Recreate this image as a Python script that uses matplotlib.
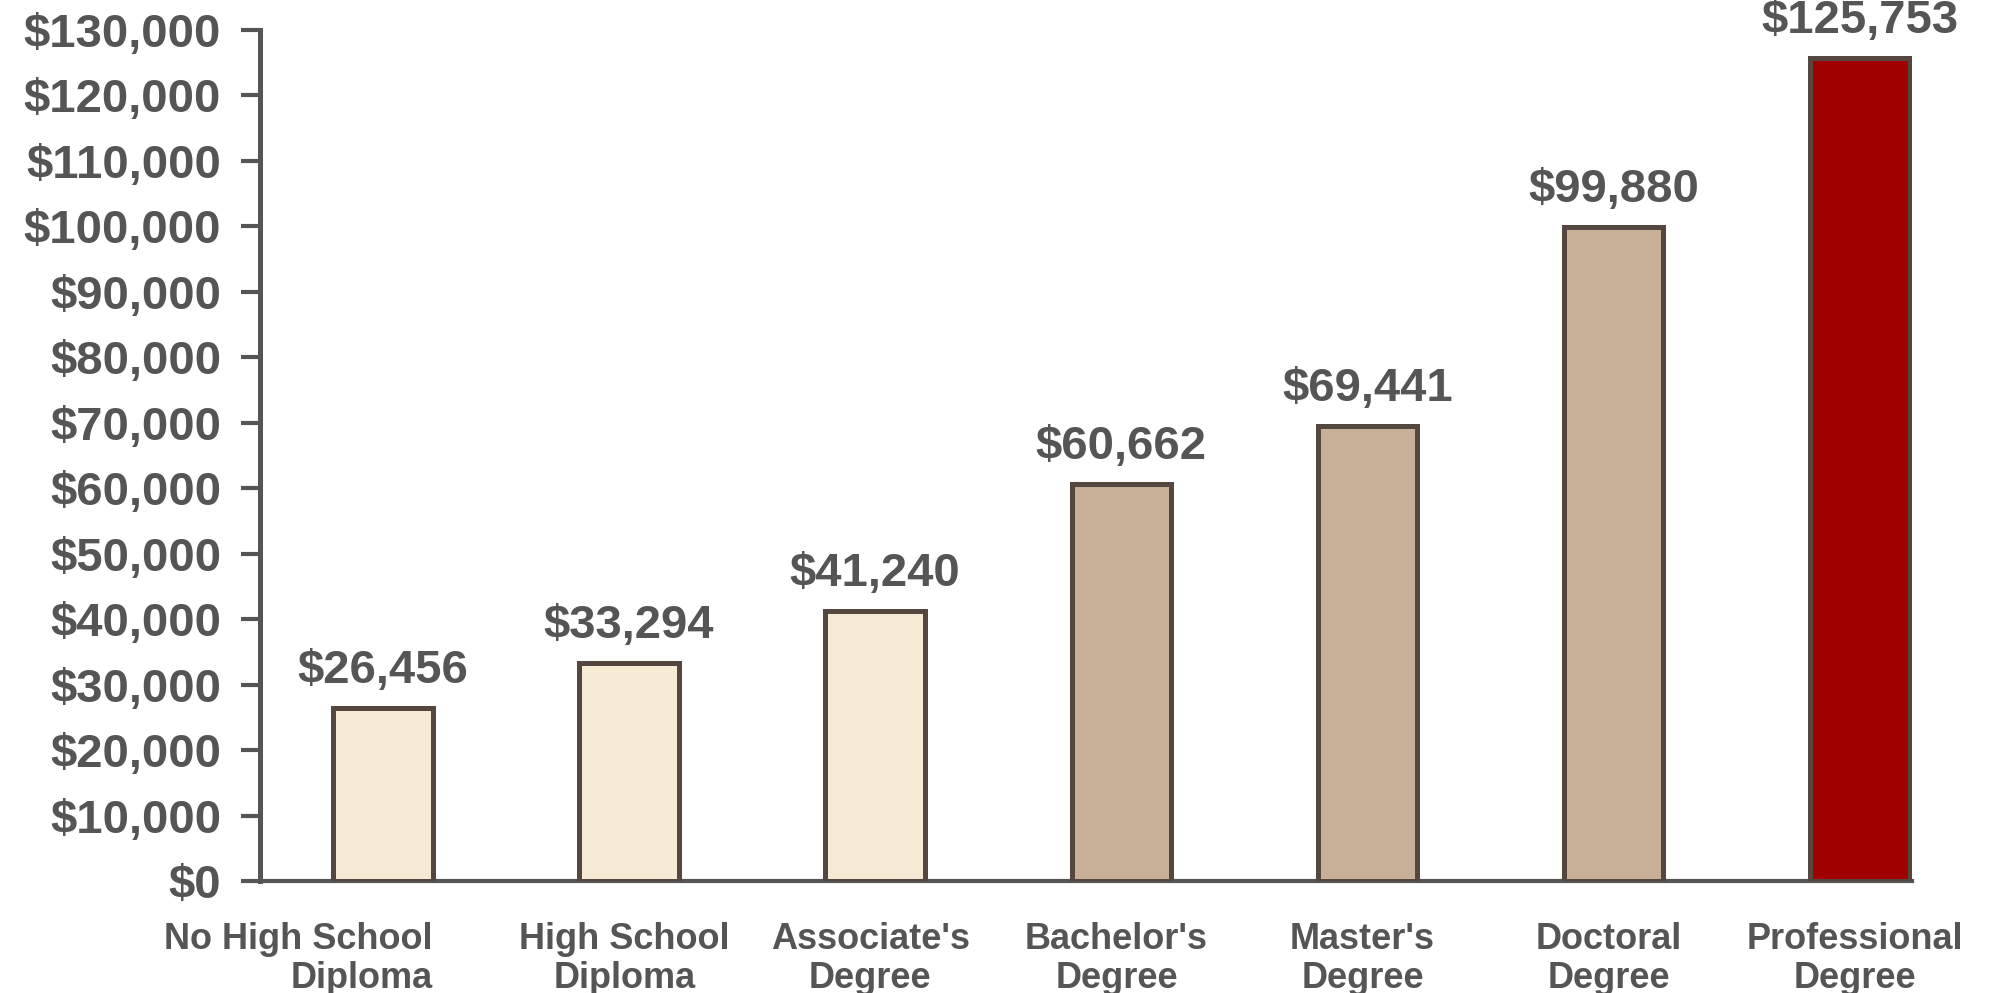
import matplotlib
matplotlib.use("Agg")
import matplotlib.pyplot as plt
from matplotlib.ticker import FuncFormatter

categories = ["No High School\nDiploma", "High School\nDiploma", "Associate's\nDegree",
              "Bachelor's\nDegree", "Master's\nDegree", "Doctoral\nDegree", "Professional\nDegree"]
values = [26456, 33294, 41240, 60662, 69441, 99880, 125753]
value_labels = ["$26,456", "$33,294", "$41,240", "$60,662", "$69,441", "$99,880", "$125,753"]
colors = ["#F5EBD5", "#F5EBD5", "#F5EBD5", "#C8B098", "#C8B098", "#C8B098", "#A00000"]
yticks = list(range(0, 130001, 10000))

plt.rcParams['font.family'] = ['Liberation Sans', 'DejaVu Sans']
text_color = "#555555"

fig = plt.figure(figsize=(19.89, 9.93), dpi=100)
ax = fig.add_axes([0.1307, 0.1128, 0.9613 - 0.1307, 0.9698 - 0.1128])

x = list(range(len(values)))
bw = 0.405
ax.bar(x, values, width=bw, color=colors, edgecolor="#54473F", linewidth=3.6, zorder=3)

for xi, v, lab in zip(x, values, value_labels):
    ax.annotate(lab, (xi, v), xytext=(0, 11), textcoords="offset points",
                ha="center", va="bottom", fontsize=34, fontweight="bold", color=text_color)

ax.set_xlim(-0.5, 6 + bw / 2 + 0.01)
ax.set_ylim(0, 130000)
ax.set_yticks(yticks)
ax.yaxis.set_major_formatter(FuncFormatter(lambda v, p: f"${int(v):,}"))
ax.tick_params(axis="y", length=14, width=3, color=text_color, pad=14,
               labelsize=34, labelcolor=text_color)
for t in ax.get_yticklabels():
    t.set_fontweight("bold")

ax.set_xticks([])
for i, c in enumerate(categories):
    if i == 0:
        ax.text(i + bw / 2, -0.048, c, transform=ax.get_xaxis_transform(),
                ha="right", va="top", multialignment="right",
                fontsize=26, fontweight="bold", color=text_color, linespacing=1.16)
    else:
        ax.text(i - 0.02, -0.048, c, transform=ax.get_xaxis_transform(),
                ha="center", va="top", multialignment="center",
                fontsize=26, fontweight="bold", color=text_color, linespacing=1.16)

for s in ["top", "right"]:
    ax.spines[s].set_visible(False)
ax.spines["left"].set_color(text_color)
ax.spines["left"].set_linewidth(3.6)
ax.spines["bottom"].set_color(text_color)
ax.spines["bottom"].set_linewidth(3)

fig.savefig("out.png", dpi=100, facecolor="white")
